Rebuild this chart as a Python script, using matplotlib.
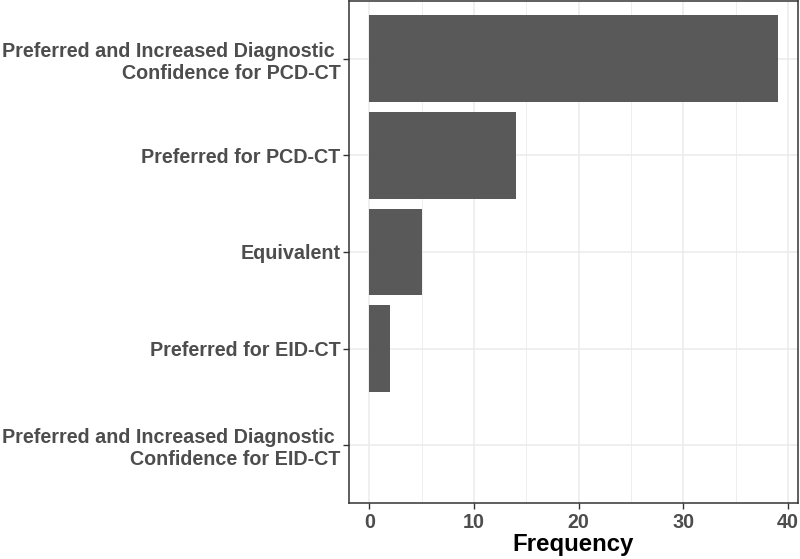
import numpy as np
import matplotlib
matplotlib.use('Agg')
import matplotlib.pyplot as plt

categories = [
    'Preferred and Increased Diagnostic \nConfidence for PCD-CT',
    'Preferred for PCD-CT',
    'Equivalent',
    'Preferred for EID-CT',
    'Preferred and Increased Diagnostic \nConfidence for EID-CT',
]
counts = [39, 14, 5, 2, 0]
xticks = [0, 10, 20, 30, 40]
xminor = [5, 15, 25, 35]

plt.rcParams['font.family'] = ['Liberation Sans', 'DejaVu Sans']

fig = plt.figure(figsize=(8, 5.59), dpi=100)
ax = fig.add_axes([349 / 800, 1 - 503 / 559, 449 / 800, 502 / 559])

ypos = np.arange(len(categories))[::-1] + 1
ax.barh(ypos, counts, height=0.9, color='#595959', zorder=3)

ax.set_xlim(-1.95, 40.95)
ax.set_ylim(0.4, 5.6)
ax.set_xticks(xticks)
ax.set_xticks(xminor, minor=True)
ax.set_yticks(ypos)
ax.set_yticklabels(categories, ha='right', multialignment='right', linespacing=1.22)

for x in xticks:
    ax.axvline(x, color='#EBEBEB', lw=1.1, zorder=1)
for x in xminor:
    ax.axvline(x, color='#EBEBEB', lw=0.6, zorder=1)
for y in ypos:
    ax.axhline(y, color='#EBEBEB', lw=1.1, zorder=1)

for s in ax.spines.values():
    s.set_color('#333333')
    s.set_linewidth(1.1)

ax.tick_params(axis='both', which='major', length=4, width=1, color='#333333',
               labelcolor='#4D4D4D', labelsize=14.2)
ax.tick_params(axis='x', which='minor', length=0)
for lab in ax.get_xticklabels() + ax.get_yticklabels():
    lab.set_fontweight('bold')
ax.tick_params(axis='y', pad=2)
ax.tick_params(axis='x', pad=3)

ax.set_xlabel('Frequency', fontsize=17.3, fontweight='bold', color='black', labelpad=1)

fig.savefig('out.png', dpi=100)
